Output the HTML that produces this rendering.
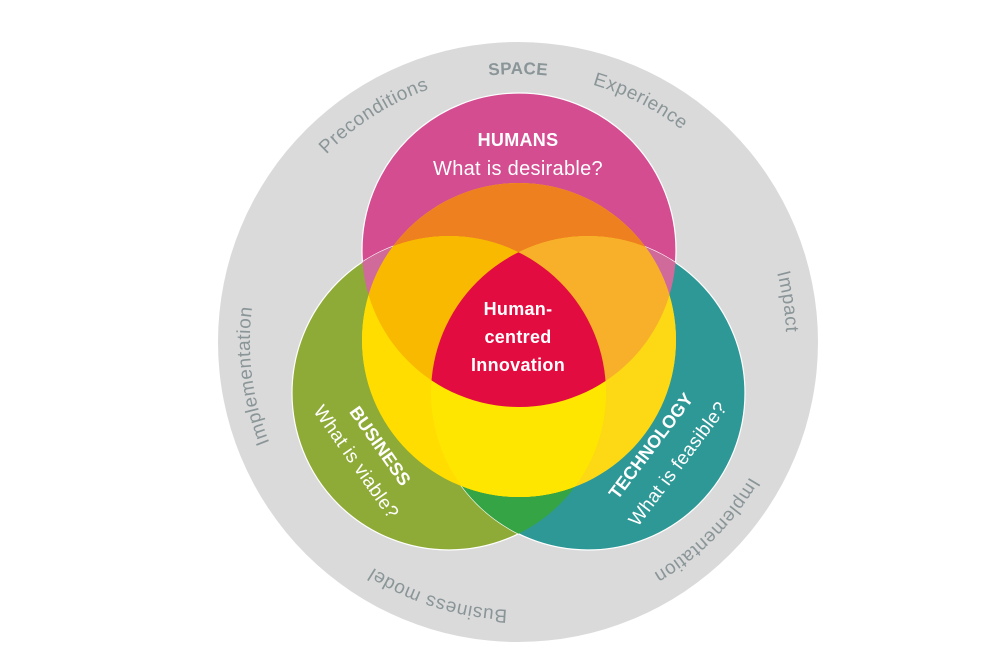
<!DOCTYPE html>
<html><head><meta charset="utf-8"><style>
html,body{margin:0;padding:0;background:#fff;width:1000px;height:667px;overflow:hidden}
svg{display:block}
text{font-family:"Liberation Sans","DejaVu Sans",sans-serif}
</style></head><body>
<svg width="1000" height="667" viewBox="0 0 1000 667" xmlns="http://www.w3.org/2000/svg">
<defs>
<clipPath id="cH"><circle cx="519" cy="250" r="157"/></clipPath>
<clipPath id="cB"><circle cx="449" cy="393" r="157"/></clipPath>
<clipPath id="cT"><circle cx="588" cy="393" r="157"/></clipPath>
<clipPath id="cY"><circle cx="519" cy="340" r="157"/></clipPath>
<path id="ring" d="M518,610 A268,268 0 1 1 518,74 A268,268 0 1 1 518,610"/>
</defs>
<circle cx="518" cy="342" r="300" fill="#dadada"/>
<g font-size="19" fill="#8a9598" letter-spacing="0.6">
<text><textPath href="#ring" startOffset="842" text-anchor="middle" font-weight="bold" font-size="17" letter-spacing="0.3">SPACE</textPath></text>
<text><textPath href="#ring" startOffset="690" text-anchor="middle">Preconditions</textPath></text>
<text><textPath href="#ring" startOffset="968" text-anchor="middle">Experience</textPath></text>
<text><textPath href="#ring" startOffset="1223" text-anchor="middle">Impact</textPath></text>
<text><textPath href="#ring" startOffset="1473" text-anchor="middle">Implementation</textPath></text>
<text><textPath href="#ring" startOffset="82" text-anchor="middle">Business model</textPath></text>
<text><textPath href="#ring" startOffset="387" text-anchor="middle">Implementation</textPath></text>
</g>
<circle cx="519" cy="250" r="157" fill="#d44d91" stroke="#fff" stroke-width="1.2"/>
<circle cx="449" cy="393" r="157" fill="#8fab37" stroke="#fff" stroke-width="1.2"/>
<circle cx="588" cy="393" r="157" fill="#2e9896" stroke="#fff" stroke-width="1.2"/>
<g clip-path="url(#cH)"><circle cx="449" cy="393" r="157" fill="#cf6a9a"/><circle cx="588" cy="393" r="157" fill="#cf6a9a"/></g>
<g clip-path="url(#cB)"><circle cx="588" cy="393" r="157" fill="#35a445"/></g>
<circle cx="519" cy="340" r="157" fill="#ffe000"/>
<g clip-path="url(#cY)">
<circle cx="519" cy="250" r="157" fill="#ee8020"/>
<circle cx="449" cy="393" r="157" fill="#ffdd00"/>
<circle cx="588" cy="393" r="157" fill="#fcd815"/>
<g clip-path="url(#cH)"><circle cx="449" cy="393" r="157" fill="#f8b900"/><circle cx="588" cy="393" r="157" fill="#f8b02a"/></g>
<g clip-path="url(#cB)"><circle cx="588" cy="393" r="157" fill="#ffe600"/></g>
</g>
<g clip-path="url(#cH)"><g clip-path="url(#cB)"><circle cx="588" cy="393" r="157" fill="#e20c40"/></g></g>
<g fill="#fff" text-anchor="middle">
<text x="518" y="146" font-size="18" font-weight="bold" letter-spacing="0.3">HUMANS</text>
<text x="518" y="175" font-size="20" letter-spacing="0.3">What is desirable?</text>
<text x="518" y="315" font-size="18" font-weight="bold" letter-spacing="0.3">Human-</text>
<text x="518" y="343" font-size="18" font-weight="bold" letter-spacing="0.3">centred</text>
<text x="518" y="371" font-size="18" font-weight="bold" letter-spacing="0.3">Innovation</text>
<text transform="translate(380,446) rotate(55)" font-size="18" font-weight="bold" dy="6">BUSINESS</text>
<text transform="translate(356,462) rotate(55)" font-size="19" dy="6" letter-spacing="0.3">What is viable?</text>
<text transform="translate(651,446) rotate(-53)" font-size="18" font-weight="bold" dy="6">TECHNOLOGY</text>
<text transform="translate(678,464) rotate(-53)" font-size="19" dy="6" letter-spacing="0.3">What is feasible?</text>
</g>
</svg>
</body></html>
